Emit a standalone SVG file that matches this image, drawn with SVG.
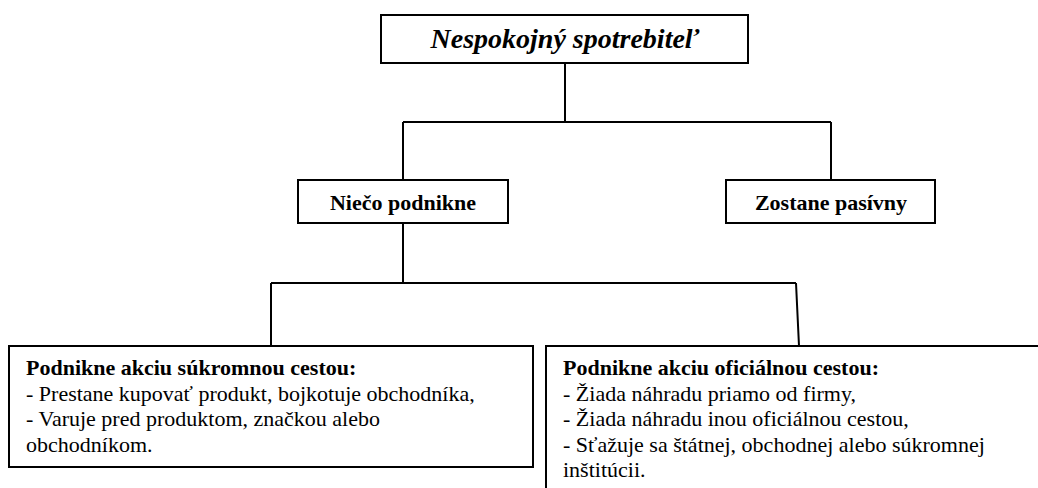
<svg xmlns="http://www.w3.org/2000/svg" width="1038" height="488" viewBox="0 0 1038 488">
<style>
.box{fill:#fff;stroke:#000;stroke-width:2}
.con{fill:none;stroke:#000;stroke-width:2}
.t{font-family:"Liberation Serif","Times New Roman",serif;font-size:22px;fill:#000}
.b{font-weight:bold}
.title{font-family:"Liberation Serif","Times New Roman",serif;font-size:28px;font-weight:bold;font-style:italic;fill:#000}
</style>
<rect width="1038" height="488" fill="#fff"/>
<g id="connectors">
<path class="con" d="M565 63 V122 M403 122 H831 M403 122 V180 M831 122 V180"/>
<path class="con" d="M403 223 V283 M271 283 H796 M271 283 V346 M796 283 L799 346"/>
</g>
<g id="node-root">
<rect class="box" x="381" y="15" width="367" height="48"/>
<text class="title" x="565" y="48" text-anchor="middle">Nespokojný spotrebiteľ</text>
</g>
<g id="node-niečo">
<rect class="box" x="298" y="180" width="210" height="43"/>
<text class="t b" x="403" y="210" text-anchor="middle">Niečo podnikne</text>
</g>
<g id="node-zostane">
<rect class="box" x="726" y="180" width="209" height="43"/>
<text class="t b" x="831" y="210" text-anchor="middle">Zostane pasívny</text>
</g>
<g id="node-sukromna">
<rect class="box" x="9" y="346" width="524" height="121"/>
<text class="t" x="26" y="375"><tspan class="b">Podnikne akciu súkromnou cestou:</tspan><tspan x="26" dy="25.5">- Prestane kupovať produkt, bojkotuje obchodníka,</tspan><tspan x="26" dy="25.5">- Varuje pred produktom, značkou alebo</tspan><tspan x="26" dy="25.5">obchodníkom.</tspan></text>
</g>
<g id="node-oficialna">
<rect class="box" x="546" y="346" width="500" height="160"/>
<text class="t" x="563" y="375"><tspan class="b">Podnikne akciu oficiálnou cestou:</tspan><tspan x="563" dy="25.5">- Žiada náhradu priamo od firmy,</tspan><tspan x="563" dy="25.5">- Žiada náhradu inou oficiálnou cestou,</tspan><tspan x="563" dy="25.5">- Sťažuje sa štátnej, obchodnej alebo súkromnej</tspan><tspan x="563" dy="25.5">inštitúcii.</tspan></text>
</g>
</svg>
